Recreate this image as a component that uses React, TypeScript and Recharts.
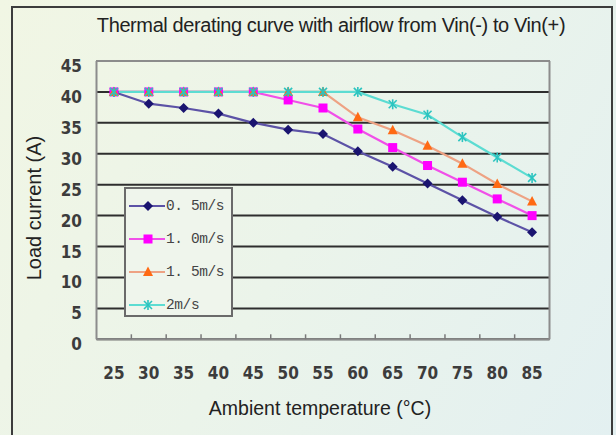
import React from 'react';
import { LineChart, Line, XAxis, YAxis, CartesianGrid, ReferenceLine, Legend } from 'recharts';

// ambient temperature (°C)
const TEMPS = [25, 30, 35, 40, 45, 50, 55, 60, 65, 70, 75, 80, 85];
// load current (A) per airflow
const AIR_05 = [40, 38.1, 37.4, 36.5, 35.0, 33.9, 33.2, 30.4, 27.9, 25.2, 22.5, 19.8, 17.3];
const AIR_10 = [40, 40, 40, 40, 40, 38.7, 37.4, 34.0, 31.0, 28.1, 25.4, 22.7, 20.0];
const AIR_15 = [40, 40, 40, 40, 40, 40, 40, 35.9, 33.8, 31.3, 28.4, 25.1, 22.3];
const AIR_20 = [40, 40, 40, 40, 40, 40, 40, 40, 38.0, 36.3, 32.7, 29.4, 26.1];

const Y_TICKS = [0, 5, 10, 15, 20, 25, 30, 35, 40, 45];
const X_BOUNDS = [27.5, 32.5, 37.5, 42.5, 47.5, 52.5, 57.5, 62.5, 67.5, 72.5, 77.5, 82.5];
const X_DOMAIN = [22.5, 87.5];

const TITLE = 'Thermal derating curve with airflow from Vin(-) to Vin(+)';
const X_TITLE = 'Ambient temperature (°C)';
const Y_TITLE = 'Load current (A)';

const SERIES = [
  { key: 'a05', name: '0. 5m/s', line: '#5c52a6', mark: '#1a1470', shape: 'diamond' },
  { key: 'a10', name: '1. 0m/s', line: '#f050e8', mark: '#ff00ff', shape: 'square' },
  { key: 'a15', name: '1. 5m/s', line: '#eea283', mark: '#ff6a14', shape: 'triangle' },
  { key: 'a20', name: '2m/s', line: '#5cdcd2', mark: '#2cc4c0', shape: 'star' },
];

const data = TEMPS.map((t, i) => ({
  t,
  a05: AIR_05[i],
  a10: AIR_10[i],
  a15: AIR_15[i],
  a20: AIR_20[i],
}));

const TICK_FONT = '"Liberation Sans Narrow", "DejaVu Sans Condensed", "Liberation Sans", Arial, sans-serif';
const TEXT_FONT = '"Liberation Sans", Arial, sans-serif';

function Marker({ shape, cx, cy, color }: any) {
  if (cx == null || cy == null) return null;
  switch (shape) {
    case 'diamond':
      return <polygon points={`${cx},${cy - 5} ${cx + 5},${cy} ${cx},${cy + 5} ${cx - 5},${cy}`} fill={color} />;
    case 'square':
      return <rect x={cx - 4.5} y={cy - 4.5} width={9} height={9} fill={color} />;
    case 'triangle':
      return <polygon points={`${cx},${cy - 5.5} ${cx + 5},${cy + 4} ${cx - 5},${cy + 4}`} fill={color} />;
    default:
      return (
        <g stroke={color} strokeWidth={1.6}>
          <line x1={cx - 4} y1={cy - 4} x2={cx + 4} y2={cy + 4} />
          <line x1={cx - 4} y1={cy + 4} x2={cx + 4} y2={cy - 4} />
          <line x1={cx} y1={cy - 5} x2={cx} y2={cy + 5} />
        </g>
      );
  }
}

const XTick = (props: any) => {
  const { x, y, payload } = props;
  if (payload.value % 5 !== 0) {
    return <line x1={x} x2={x} y1={y} y2={y - 5} stroke="#7a7a7a" strokeWidth={1.5} />;
  }
  return (
    <text x={x} y={y + 40} textAnchor="middle" fill="#3c3c3c" fontSize={17} fontWeight="bold" fontFamily={TICK_FONT}>
      {payload.value}
    </text>
  );
};

const YTick = (props: any) => {
  const { x, y, payload } = props;
  return (
    <text x={x} y={y + 11} textAnchor="end" fill="#3c3c3c" fontSize={17} fontWeight="bold" fontFamily={TICK_FONT}>
      {payload.value}
    </text>
  );
};

const renderLegend = () => (
  <div
    style={{
      width: 109,
      height: 130,
      boxSizing: 'border-box',
      border: '2px solid #6a6a6a',
      background: '#eff5ec',
    }}
  >
    {SERIES.map((s) => (
      <div key={s.key} style={{ height: 33, display: 'flex', alignItems: 'center' }}>
        <svg width={40} height={16} style={{ flex: 'none' }}>
          <line x1={3} x2={39} y1={8} y2={8} stroke={s.line} strokeWidth={2} />
          <Marker shape={s.shape} cx={22} cy={8} color={s.mark} />
        </svg>
        <span
          style={{
            fontFamily: '"Liberation Mono", "DejaVu Sans Mono", monospace',
            fontSize: 14.5,
            letterSpacing: -0.4,
            color: '#444',
            whiteSpace: 'pre',
          }}
        >
          {s.name}
        </span>
      </div>
    ))}
  </div>
);

export default function App() {
  return (
    <div
      style={{
        position: 'absolute',
        left: 0,
        top: 0,
        width: 616,
        height: 435,
        overflow: 'hidden',
        background: 'linear-gradient(120deg, #f1f6e4 0%, #ebf4ea 50%, #e3f0f1 100%)',
      }}
    >
      <div
        style={{
          position: 'absolute',
          left: 11,
          top: 6,
          width: 598,
          height: 440,
          border: '2px solid #3c3c3c',
        }}
      />
      <div
        style={{
          position: 'absolute',
          left: 0,
          width: 662,
          top: 14,
          textAlign: 'center',
          fontFamily: TEXT_FONT,
          fontSize: 20,
          letterSpacing: -0.4,
          color: '#222',
        }}
      >
        {TITLE}
      </div>
      <div
        style={{
          position: 'absolute',
          left: 0,
          width: 640,
          top: 397,
          textAlign: 'center',
          fontFamily: TEXT_FONT,
          fontSize: 19.5,
          color: '#222',
        }}
      >
        {X_TITLE}
      </div>
      <div
        style={{
          position: 'absolute',
          left: 34,
          top: 208,
          transform: 'translate(-50%, -50%) rotate(-90deg)',
          whiteSpace: 'nowrap',
          fontFamily: TEXT_FONT,
          fontSize: 20,
          color: '#222',
        }}
      >
        {Y_TITLE}
      </div>
      <div style={{ position: 'absolute', left: 0, top: 0 }}>
        <LineChart width={616} height={435} data={data} margin={{ top: 61, right: 66.5, bottom: 0, left: 0 }}>
          <CartesianGrid vertical={false} stroke="#2e2e2e" strokeWidth={2} />
          <XAxis
            dataKey="t"
            type="number"
            domain={X_DOMAIN}
            ticks={[...TEMPS, ...X_BOUNDS].sort((a, b) => a - b)}
            interval={0}
            height={95.7}
            axisLine={false}
            tickLine={false}
            tickSize={0}
            tickMargin={0}
            tick={<XTick />}
          />
          <YAxis
            domain={[0, 45]}
            ticks={Y_TICKS}
            interval={0}
            width={96.5}
            axisLine={false}
            tickLine={false}
            tickSize={0}
            tickMargin={14.5}
            tick={<YTick />}
          />
          <ReferenceLine y={45} stroke="#8c8c8c" strokeWidth={2} />
          <ReferenceLine y={0} stroke="#8c8c8c" strokeWidth={2} />
          <ReferenceLine x={X_DOMAIN[0]} stroke="#8c8c8c" strokeWidth={2} />
          <ReferenceLine x={X_DOMAIN[1]} stroke="#8c8c8c" strokeWidth={2} />
          <Legend
            layout="vertical"
            align="center"
            verticalAlign="middle"
            content={renderLegend}
            wrapperStyle={{ position: 'absolute', left: 124, top: 187, width: 109, height: 130 }}
          />
          {SERIES.map((s) => (
            <Line
              key={s.key}
              dataKey={s.key}
              name={s.name}
              stroke={s.line}
              strokeWidth={2.2}
              isAnimationActive={false}
              dot={(p: any) => <Marker key={`${s.key}-${p.index}`} shape={s.shape} cx={p.cx} cy={p.cy} color={s.mark} />}
              activeDot={false}
            />
          ))}
        </LineChart>
      </div>
    </div>
  );
}
